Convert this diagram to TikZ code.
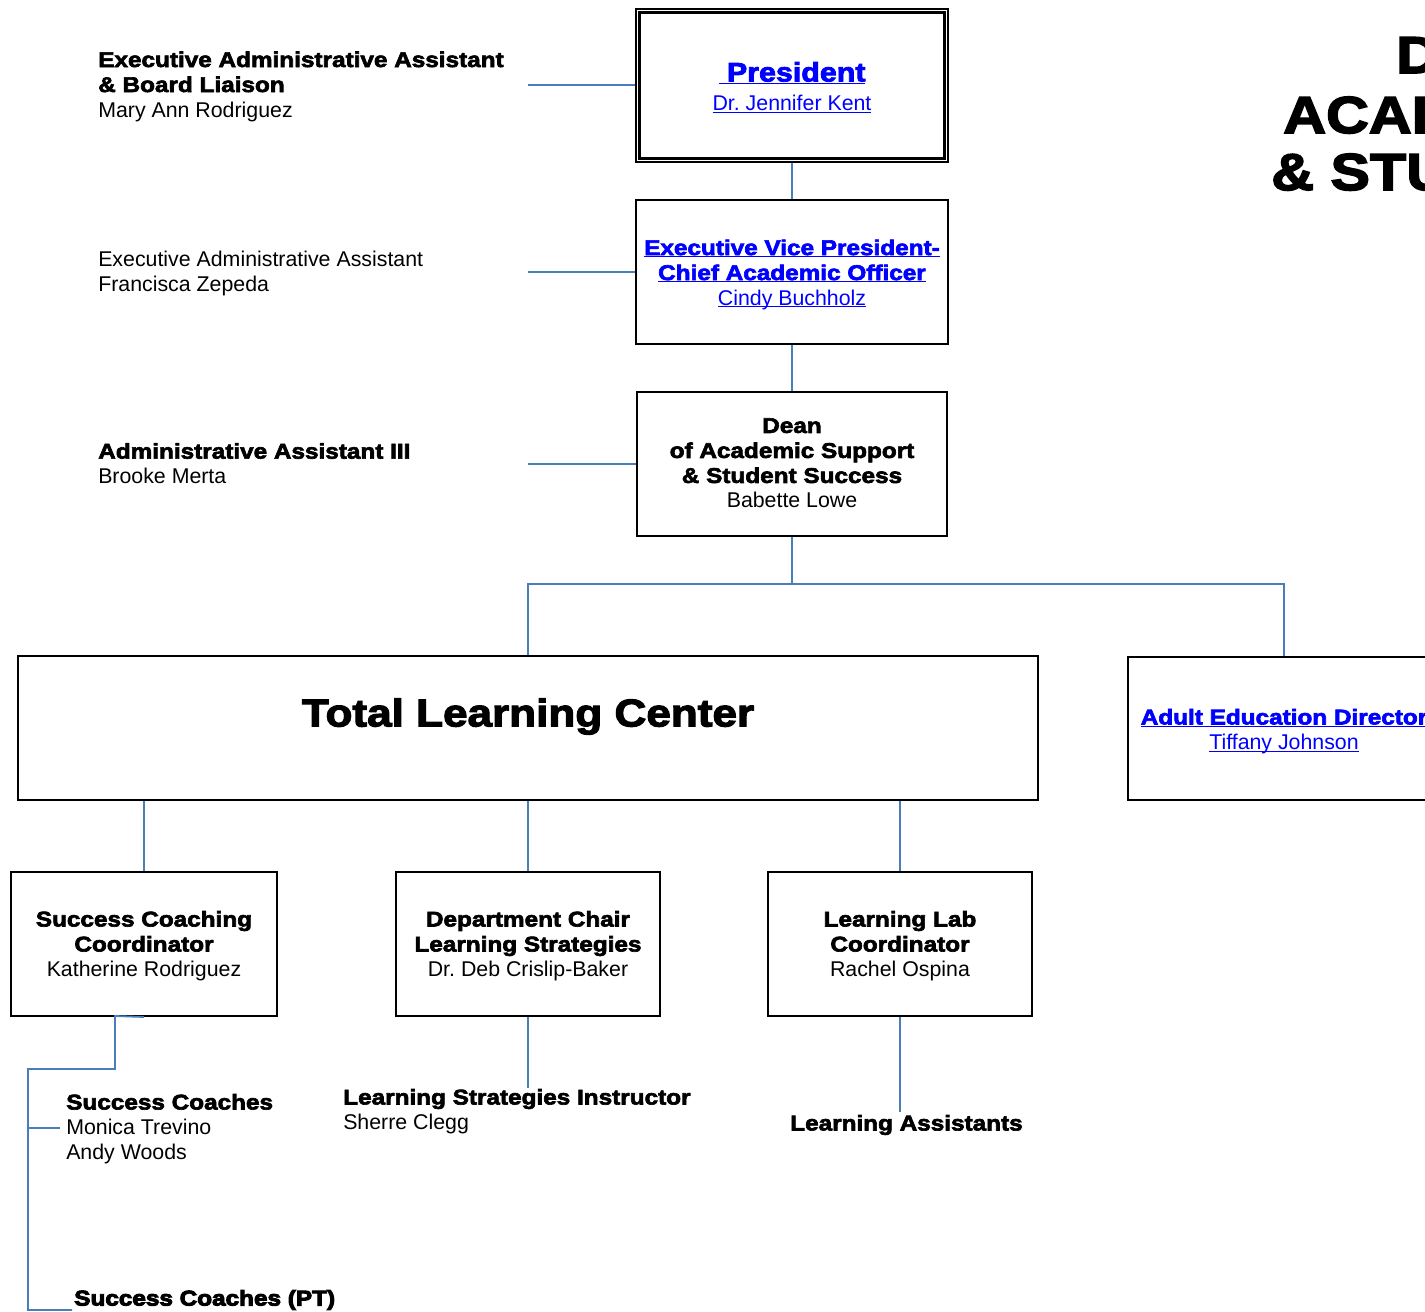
\documentclass[tikz,border=0pt]{standalone}
\usepackage{fontspec}
\setmainfont{Liberation Sans}
\newfontfamily\blk{Liberation Sans Bold}[FakeBold=3,FakeStretch=1.14]
\newfontfamily\blkx{Liberation Sans Bold}[FakeBold=4.5,FakeStretch=1.14]
\definecolor{lineblue}{RGB}{74,126,187}
\definecolor{linkblue}{RGB}{0,0,255}
\newcommand\fs{\fontsize{16}{18.75}\selectfont}
\newcommand\lnk[1]{\setbox0\hbox{#1}\rlap{\rule[-1.8pt]{\wd0}{0.8pt}}\box0}
\frenchspacing
\begin{document}
\begin{tikzpicture}[x=0.75pt,y=-0.75pt,
  box/.style={draw=black,line width=1.5pt,rectangle,inner sep=0pt},
  btxt/.style={inner sep=0pt,align=center,font=\fs},
  conn/.style={draw=lineblue,line width=1.35pt},
  lbl/.style={inner sep=0pt,align=left,anchor=west,font=\fs},
  bigt/.style={inner sep=0pt,anchor=base west,font=\blk\fontsize{39}{40}\selectfont}]
\useasboundingbox (0,0) rectangle (1425,1312);
\begin{scope}
\clip (0,0) rectangle (1425,1312);
% title
\node[bigt] (t1) at (1396,73) {D};
\node[bigt] (t2) at (1283,133) {ACAD};
\node[bigt] (t3) at (1271,190) {\& STU};
% boxes
\node[box,minimum width=234pt,minimum height=114.75pt,line width=2.2pt] (pres) at (792,85.5) {};
\draw[line width=1.6pt] ([shift={(5,5)}]pres.north west) rectangle ([shift={(-5,-5)}]pres.south east);
\node[btxt,font=\fontsize{16}{21.75}\selectfont,text=linkblue] (prest) at ([yshift=-1.5pt]pres.center)
  {{\blk\fontsize{20}{24}\selectfont\lnk{\ President}}\\\lnk{Dr. Jennifer Kent}};
\node[box,minimum width=234pt,minimum height=108pt] (evp) at (792,272) {};
\node[btxt,text=linkblue] (evpt) at ([yshift=-1.9pt]evp.center)
  {{\blk\lnk{Executive Vice President-}}\\{\blk\lnk{Chief Academic Officer}}\\\lnk{Cindy Buchholz}};
\node[box,minimum width=232.5pt,minimum height=108pt] (dean) at (792,464) {};
\node[btxt] (deant) at ([yshift=0.6pt]dean.center)
  {{\blk Dean}\\{\blk of Academic Support}\\{\blk\& Student Success}\\Babette Lowe};
\node[box,minimum width=765pt,minimum height=108pt] (tlc) at (528,728) {};
\node[inner sep=0pt,font=\blk\fontsize{29}{30}\selectfont] (tlct) at (528,716.5) {Total Learning Center};
\node[box,minimum width=234pt,minimum height=107.25pt] (adult) at (1284,728.5) {};
\node[btxt,text=linkblue] (adultt) at ([yshift=-2.2pt]adult.center)
  {{\blk\lnk{Adult Education Director}}\\\lnk{Tiffany Johnson}};
\node[box,minimum width=199.5pt,minimum height=108pt] (sc) at (144,944) {};
\node[btxt] (sct) at ([yshift=-1.5pt]sc.center)
  {{\blk Success Coaching}\\{\blk Coordinator}\\Katherine Rodriguez};
\node[box,minimum width=198pt,minimum height=108pt] (dc) at (528,944) {};
\node[btxt] (dct) at ([yshift=-1.5pt]dc.center)
  {{\blk Department Chair}\\{\blk Learning Strategies}\\Dr. Deb Crislip-Baker};
\node[box,minimum width=198pt,minimum height=108pt] (ll) at (900,944) {};
\node[btxt] (llt) at ([yshift=-1.5pt]ll.center)
  {{\blk Learning Lab}\\{\blk Coordinator}\\Rachel Ospina};
% side labels
\node[lbl] (ea) at (98,86.5) {{\blk Executive Administrative Assistant}\\{\blk\& Board Liaison}\\Mary Ann Rodriguez};
\node[lbl] (fz) at (98,273.5) {Executive Administrative Assistant\\Francisca Zepeda};
\node[lbl] (bm) at (98,463.5) {{\blk Administrative Assistant III}\\Brooke Merta};
\node[lbl] (scs) at (66,1129) {{\blk Success Coaches}\\Monica Trevino\\Andy Woods};
\node[lbl,font=\blkx\fontsize{16}{18.75}\selectfont] (pt) at (74,1300) {Success Coaches (PT)};
\node[lbl] (lsi) at (343,1111.5) {{\blk Learning Strategies Instructor}\\Sherre Clegg};
\node[lbl,font=\blk\fontsize{16}{18.75}\selectfont] (la) at (790,1125) {Learning Assistants};
% connector ends
\coordinate (c1) at (528,85);
\coordinate (c2) at (528,272);
\coordinate (c3) at (528,464);
\coordinate (bus) at (792,584);
\coordinate (s1) at (115,1016);
\coordinate (s2) at (115,1069);
\coordinate (s3) at (28,1069);
\coordinate (s4) at (28,1310);
\coordinate (s5) at (72,1310);
\coordinate (s6) at (28,1128);
\coordinate (s7) at (60,1128);
\coordinate (d1) at (528,1088);
\coordinate (l1) at (900,1112);
% connectors
\draw[conn] (c1) -- (c1 -| pres.west);
\draw[conn] (pres.south) -- (evp.north);
\draw[conn] (c2) -- (c2 -| evp.west);
\draw[conn] (evp.south) -- (dean.north);
\draw[conn] (c3) -- (c3 -| dean.west);
\draw[conn] (dean.south) -- (bus);
\draw[conn] (tlc.north) |- (bus);
\draw[conn] (adult.north) |- (bus);
\draw[conn] (sc.north) -- (sc.north |- tlc.south);
\draw[conn] (dc.north) -- (dc.north |- tlc.south);
\draw[conn] (ll.north) -- (ll.north |- tlc.south);
\draw[conn] (sc.south) -- (s1) -- (s2) -- (s3) -- (s4) -- (s5);
\draw[conn] (s6) -- (s7);
\draw[conn] (dc.south) -- (d1);
\draw[conn] (ll.south) -- (l1);
\end{scope}
\end{tikzpicture}
\end{document}
